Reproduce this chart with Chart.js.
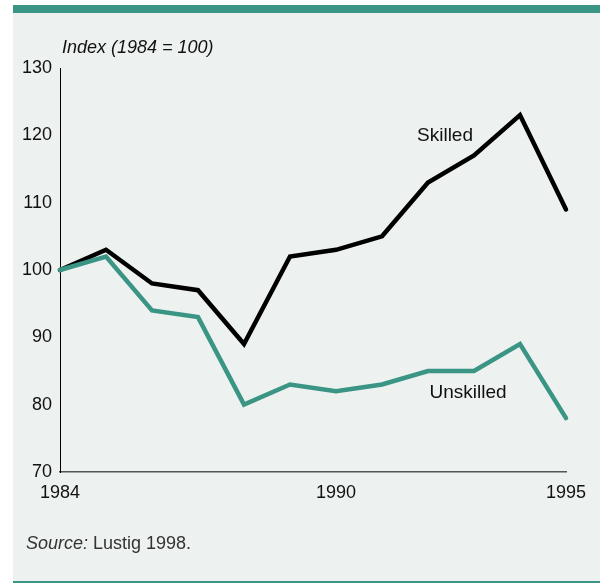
<!DOCTYPE html>
<html>
<head>
<meta charset="utf-8">
<script src="https://cdn.jsdelivr.net/npm/chart.js@4/dist/chart.umd.min.js"></script>
<style>
  html, body { margin: 0; padding: 0; background: #fff; }
  #panel {
    position: absolute; left: 13px; top: 5px; width: 587px; height: 578px;
    background: #edf1f0; border-top: 8px solid #3a9584; border-bottom: 2px solid #3a9584;
    box-sizing: border-box;
  }
  #wrap { position: absolute; left: 0; top: 0; width: 600px; height: 583px; }
  #source {
    position: absolute; left: 26px; top: 533px;
    font-family: "Liberation Sans", Arial, sans-serif; font-size: 18px; color: #333;
  }
</style>
</head>
<body>
<div id="panel"></div>
<div id="wrap"><canvas id="wageChart" width="600" height="583"></canvas></div>
<div id="source"><i>Source:</i> Lustig 1998.</div>
<script>
// data
const years = [1984, 1985, 1986, 1987, 1988, 1989, 1990, 1991, 1992, 1993, 1994, 1995];
const skilled = [100, 103, 98, 97, 89, 102, 103, 105, 113, 117, 123, 109];
const unskilled = [100, 102, 94, 93, 80, 83, 82, 83, 85, 85, 89, 78];
const xTicks = [1984, 1990, 1995];
const yTicks = [70, 80, 90, 100, 110, 120, 130];
const yTitle = "Index (1984 = 100)";

// where the series names sit, in data units
const seriesLabels = [
  { text: "Skilled", x: 1992.37, y: 120 },
  { text: "Unskilled", x: 1992.87, y: 81.7 }
];

const teal = "#3a9584";
const font = "Liberation Sans, Arial, sans-serif";

const toPoints = vals => vals.map((v, i) => ({ x: years[i], y: v }));

// draws the axis title and the series names
const textPlugin = {
  id: "texts",
  afterDatasetsDraw(chart) {
    const c = chart.ctx;
    const xs = chart.scales.x, ys = chart.scales.y;
    c.save();
    c.fillStyle = "#111";
    c.font = "italic 18px " + font;
    c.textAlign = "left";
    c.textBaseline = "middle";
    c.fillText(yTitle, chart.chartArea.left + 2, chart.chartArea.top - 20);
    c.font = "19px " + font;
    c.textAlign = "center";
    seriesLabels.forEach(l => {
      c.fillText(l.text, xs.getPixelForValue(l.x), ys.getPixelForValue(l.y));
    });
    c.restore();
  }
};

new Chart(document.getElementById("wageChart"), {
  type: "line",
  data: {
    datasets: [
      { label: "Skilled", data: toPoints(skilled), borderColor: "#000", borderWidth: 4.5, pointRadius: 0, borderJoinStyle: "miter", borderCapStyle: "round", tension: 0, clip: false, order: 1 },
      { label: "Unskilled", data: toPoints(unskilled), borderColor: teal, borderWidth: 4.5, pointRadius: 0, borderJoinStyle: "miter", borderCapStyle: "round", tension: 0, clip: false, order: 0 }
    ]
  },
  options: {
    responsive: false,
    animation: false,
    devicePixelRatio: 1,
    layout: { padding: { left: 0, top: 68, right: 34, bottom: 81 } },
    plugins: { legend: { display: false }, tooltip: { enabled: false } },
    scales: {
      x: {
        type: "linear",
        min: 1984, max: 1995,
        afterBuildTicks: s => { s.ticks = xTicks.map(v => ({ value: v })); },
        afterFit: s => { s.height = 30; },
        grid: { display: false, drawTicks: false },
        border: { display: true, color: "#555", width: 1.5 },
        ticks: { color: "#111", font: { family: font, size: 18 }, padding: 10, maxRotation: 0, callback: v => String(v) }
      },
      y: {
        min: 70, max: 130,
        afterBuildTicks: s => { s.ticks = yTicks.map(v => ({ value: v })); },
        afterFit: s => { s.width = 60; },
        grid: { display: false, drawTicks: false },
        border: { display: true, color: "#000", width: 1 },
        ticks: { color: "#111", font: { family: font, size: 18 }, padding: 8 }
      }
    }
  },
  plugins: [textPlugin]
});
</script>
</body>
</html>
